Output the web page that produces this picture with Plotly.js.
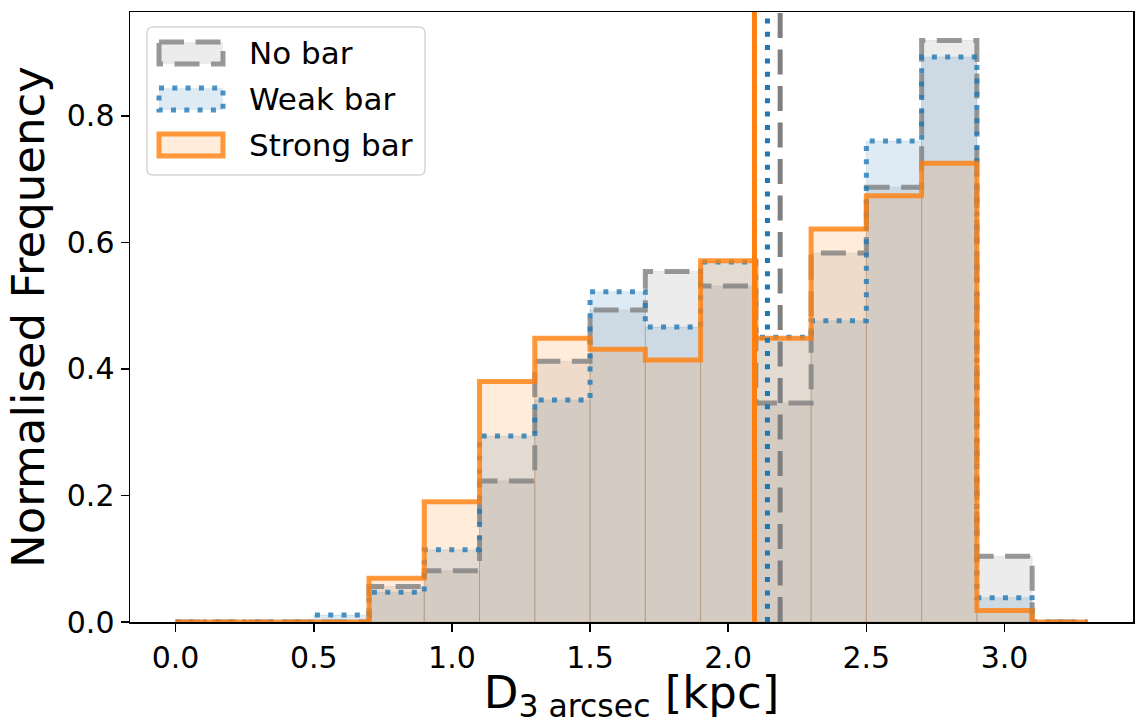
<!DOCTYPE html>
<html>
<head>
<meta charset="utf-8">
<script src="https://cdn.plot.ly/plotly-3.0.1.min.js"></script>
<style>
  html, body { margin: 0; padding: 0; background: #ffffff; }
  #chart { width: 1136px; height: 724px; }
</style>
</head>
<body>
<div id="chart"></div>
<script>
// Histogram bin edges in kpc (first bin is a short empty one starting at 0)
const binEdges = [0.0, 0.1, 0.3, 0.5, 0.7, 0.9, 1.1, 1.3, 1.5, 1.7, 1.9, 2.1, 2.3, 2.5, 2.7, 2.9, 3.1, 3.3];

// Normalised frequency per bin for each bar class
const noBar     = [0, 0, 0, 0,     0.056, 0.081, 0.223, 0.412, 0.493, 0.554, 0.531, 0.346, 0.583, 0.687,  0.919, 0.104,  0];
const weakBar   = [0, 0, 0, 0.011, 0.047, 0.114, 0.294, 0.351, 0.522, 0.466, 0.569, 0.450, 0.476, 0.760,  0.893, 0.0385, 0];
const strongBar = [0, 0, 0, 0,     0.069, 0.190, 0.380, 0.4485, 0.431, 0.414, 0.571, 0.4485, 0.621, 0.6735, 0.725, 0.018, 0];

// Median D_3arcsec of each class
const medians = [2.188, 2.142, 2.095];

const seriesNames = ['No bar', 'Weak bar', 'Strong bar'];
const seriesData = [noBar, weakBar, strongBar];

const xTickVals = [0.0, 0.5, 1.0, 1.5, 2.0, 2.5, 3.0];
const xTickText = ['0.0', '0.5', '1.0', '1.5', '2.0', '2.5', '3.0'];
const yTickVals = [0.0, 0.2, 0.4, 0.6, 0.8];
const yTickText = ['0.0', '0.2', '0.4', '0.6', '0.8'];

// Styling
const rgb = [[127, 127, 127], [31, 119, 180], [255, 127, 14]];
const rgba = (c, a) => `rgba(${c[0]},${c[1]},${c[2]},${a})`;
const dashes = ['25px,11.5px', '5px,8.3px', 'solid'];
const FONT = 'DejaVu Sans, Liberation Sans, sans-serif';

// Plot area geometry (px)
const W = 1136, H = 724;
const M = { l: 130, r: 3, t: 12, b: 102 };
const PW = W - M.l - M.r, PH = H - M.t - M.b;
const px = x => (x - M.l) / PW;      // pixel -> paper x
const py = y => (H - M.b - y) / PH;  // pixel -> paper y

const centers = [], widths = [];
for (let i = 0; i < binEdges.length - 1; i++) {
  centers.push((binEdges[i] + binEdges[i + 1]) / 2);
  widths.push(binEdges[i + 1] - binEdges[i]);
}

// Step outline: up at the first edge, across each bin, down at the last edge
function stepPath(vals) {
  const xs = [binEdges[0]], ys = [0];
  for (let i = 0; i < vals.length; i++) { xs.push(binEdges[i]); ys.push(vals[i]); }
  xs.push(binEdges[binEdges.length - 1]); ys.push(vals[vals.length - 1]);
  xs.push(binEdges[binEdges.length - 1]); ys.push(0);
  return { xs, ys };
}

const traces = [];
// translucent filled bars
seriesData.forEach((vals, k) => {
  traces.push({
    type: 'bar', x: centers, y: vals, width: widths,
    marker: { color: rgba(rgb[k], 0.15), line: { color: rgba(rgb[k], 0.12), width: 1 } },
    hoverinfo: 'skip', showlegend: false
  });
});
// step outlines
seriesData.forEach((vals, k) => {
  const p = stepPath(vals);
  traces.push({
    type: 'scatter', mode: 'lines', x: p.xs, y: p.ys,
    line: { shape: 'hv', color: rgba(rgb[k], 0.8), width: 5, dash: dashes[k] },
    hoverinfo: 'skip', showlegend: false, name: seriesNames[k]
  });
});

const shapes = [];
// median lines across the full height
medians.forEach((m, k) => {
  shapes.push({
    type: 'line', xref: 'x', yref: 'paper', x0: m, x1: m, y0: 0, y1: 1,
    line: { color: rgba(rgb[k], 1), width: 5, dash: dashes[k] },
    layer: 'above'
  });
});

// legend frame (rounded box)
(function () {
  const x0 = 147, x1 = 425, y0 = 27, y1 = 175, r = 6;
  const P = (x, y) => `${px(x)},${py(y)}`;
  const path = `M ${P(x0 + r, y0)} L ${P(x1 - r, y0)} Q ${P(x1, y0)} ${P(x1, y0 + r)} ` +
    `L ${P(x1, y1 - r)} Q ${P(x1, y1)} ${P(x1 - r, y1)} L ${P(x0 + r, y1)} ` +
    `Q ${P(x0, y1)} ${P(x0, y1 - r)} L ${P(x0, y0 + r)} Q ${P(x0, y0)} ${P(x0 + r, y0)} Z`;
  shapes.push({
    type: 'path', xref: 'paper', yref: 'paper', path: path,
    fillcolor: 'rgba(255,255,255,0.8)', line: { color: 'rgba(204,204,204,0.8)', width: 1.5 },
    layer: 'above'
  });
})();

const annotations = [];
const rowY = [53, 99, 145];
seriesNames.forEach((name, k) => {
  // legend swatch
  shapes.push({
    type: 'rect', xref: 'paper', yref: 'paper',
    x0: px(159), x1: px(223), y0: py(rowY[k] - 11), y1: py(rowY[k] + 11),
    fillcolor: rgba(rgb[k], 0.15),
    line: { color: rgba(rgb[k], 0.8), width: 5, dash: dashes[k] },
    layer: 'above'
  });
  annotations.push({
    xref: 'paper', yref: 'paper', x: px(247), y: py(rowY[k]),
    xanchor: 'left', yanchor: 'middle', showarrow: false,
    text: name, font: { family: FONT, size: 31, color: '#000' }
  });
});

const axisCommon = {
  showgrid: false, zeroline: false, showline: true, mirror: true,
  linecolor: '#000', linewidth: 1.5, ticks: 'outside', ticklen: 8, tickwidth: 1.5,
  tickcolor: '#000', tickfont: { family: FONT, size: 30, color: '#000' }
};

const layout = {
  width: W, height: H,
  margin: M,
  paper_bgcolor: '#fff', plot_bgcolor: '#fff',
  barmode: 'overlay', bargap: 0,
  showlegend: false,
  xaxis: Object.assign({}, axisCommon, {
    range: [-0.165, 3.465], tickmode: 'array', tickvals: xTickVals, ticktext: xTickText,
    title: { text: 'D<sub>3 arcsec</sub> [kpc]', font: { family: FONT, size: 45, color: '#000' }, standoff: 11 }
  }),
  yaxis: Object.assign({}, axisCommon, {
    range: [0, 0.964], tickmode: 'array', tickvals: yTickVals, ticktext: yTickText,
    title: { text: 'Normalised Frequency', font: { family: FONT, size: 45, color: '#000' }, standoff: 8 }
  }),
  shapes: shapes,
  annotations: annotations
};

Plotly.newPlot('chart', traces, layout, { displayModeBar: false, staticPlot: true });
</script>
</body>
</html>
